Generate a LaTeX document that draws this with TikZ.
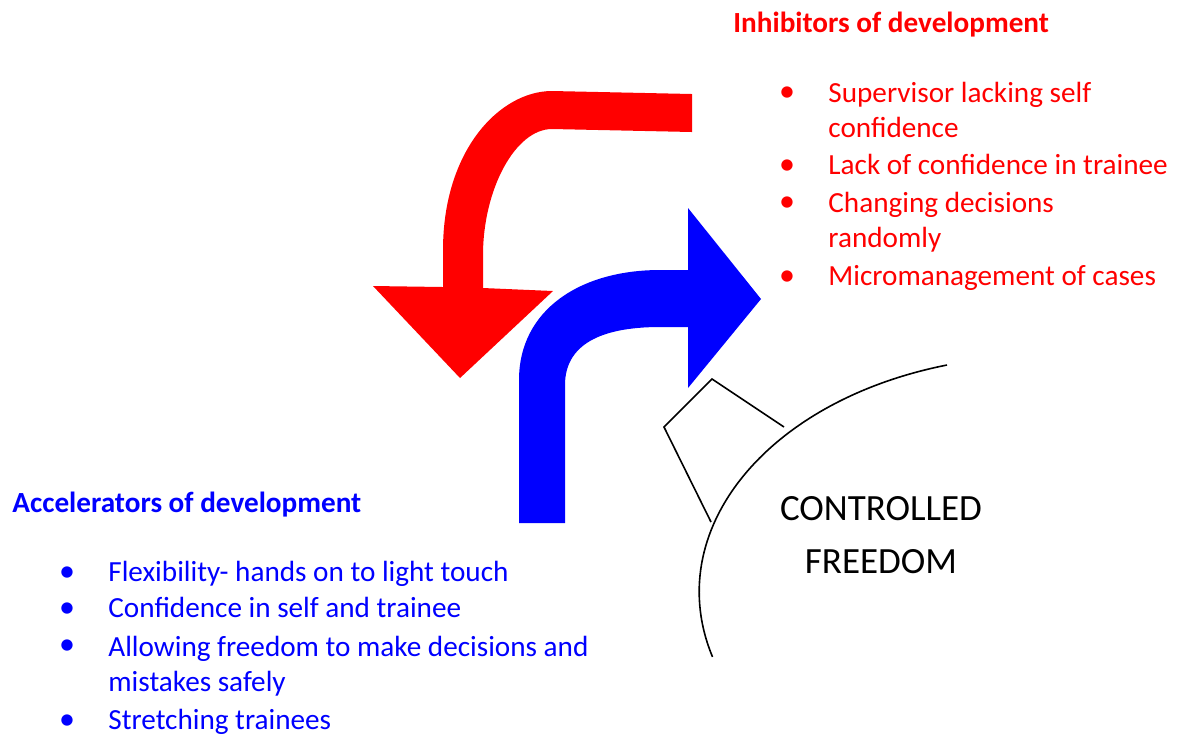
\documentclass[tikz,border=0pt]{standalone}
\usepackage{fontspec}
\setmainfont{Carlito}
\usetikzlibrary{positioning}

\begin{document}
\begin{tikzpicture}[x=0.5pt,y=-0.5pt]
\definecolor{inhibred}{HTML}{FF0000}
\definecolor{accelblue}{HTML}{0000FF}
\tikzstyle{list-text}=[inner sep=0pt, anchor=base west, align=left, font=\fontsize{14.6}{17.5}\selectfont]
\tikzstyle{list-title}=[list-text, font=\fontsize{14.6}{17.5}\selectfont\bfseries]
\tikzstyle{bullet}=[inner sep=0pt, anchor=base, font=\fontsize{16}{17.5}\selectfont]
\tikzstyle{outline}=[black, line width=0.8pt]
\useasboundingbox (0,0) rectangle (1186,736);

% red arrow, from the right round to the bottom
\fill[inhibred] (692,94) -- (552,91) .. controls (500,91) and (443,150) .. (443,250)
  -- (443,287) -- (373,286) -- (460,378) -- (553,291) -- (483,288) -- (483,255)
  .. controls (483,190) and (515,129) .. (552,129) -- (692,132) -- cycle;

% blue arrow, from the bottom round to the right
\fill[accelblue] (519,523) -- (519,380) .. controls (519,310) and (580,270) .. (660,270)
  -- (688,270) -- (688,208) -- (761,299) -- (688,388) -- (688,327) -- (660,327)
  .. controls (600,327) and (565,345) .. (565,385) -- (565,523) -- cycle;

% controlled freedom
\draw[style=outline] (947,365) arc[start angle=106, end angle=196, x radius=171pt, y radius=118pt];
\draw[style=outline, line join=miter] (784,427) -- (712,379) -- (664,427) -- (711,522);
% multi-line nodes sit on the baseline of their last line
\node[align=center, inner sep=0pt, font=\fontsize{18.5}{26.3}\selectfont, anchor=base] (cf) at (881,573) {CONTROLLED\\FREEDOM};

% inhibitors
\node[list-title, inhibred] (inhib-title) at (733,32) {Inhibitors of development};
\node[list-text, inhibred] (inhib1) at (828,137) {Supervisor lacking self\\confidence};
\node[list-text, inhibred] (inhib2) at (828,174) {Lack of confidence in trainee};
\node[list-text, inhibred] (inhib3) at (828,247) {Changing decisions\\randomly};
\node[list-text, inhibred] (inhib4) at (828,285) {Micromanagement of cases};
\node[bullet, inhibred] (ib1) at (787,101) {\textbullet};
\node[bullet, inhibred] (ib2) at (787,174) {\textbullet};
\node[bullet, inhibred] (ib3) at (787,211) {\textbullet};
\node[bullet, inhibred] (ib4) at (787,285) {\textbullet};

% accelerators
\node[list-title, accelblue] (accel-title) at (12,512) {Accelerators of development};
\node[list-text, accelblue] (accel1) at (108,581) {Flexibility- hands on to light touch};
\node[list-text, accelblue] (accel2) at (108,617) {Confidence in self and trainee};
\node[list-text, accelblue] (accel3) at (108,691) {Allowing freedom to make decisions and\\mistakes safely};
\node[list-text, accelblue] (accel4) at (108,729) {Stretching trainees};
\node[bullet, accelblue] (ab1) at (67,581) {\textbullet};
\node[bullet, accelblue] (ab2) at (67,617) {\textbullet};
\node[bullet, accelblue] (ab3) at (67,654) {\textbullet};
\node[bullet, accelblue] (ab4) at (67,729) {\textbullet};

\end{tikzpicture}
\end{document}
